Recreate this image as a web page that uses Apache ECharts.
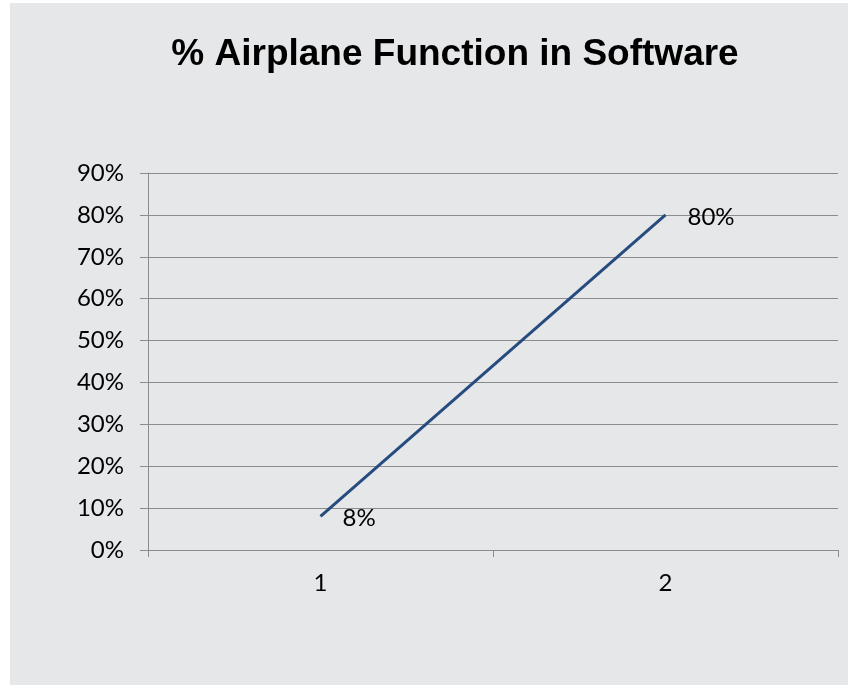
<!DOCTYPE html>
<html><head><meta charset="utf-8">
<script src="https://cdn.jsdelivr.net/npm/echarts@6/dist/echarts.min.js"></script>
<style>
html,body{margin:0;padding:0;background:#ffffff;}
#c{position:absolute;left:10px;top:3px;width:838px;height:682px;background:#e6e7e9;}
</style></head><body>
<div id="c"></div>
<script>
const categories = ['1', '2'];
const values = [0.08, 0.80];
const titleText = '% Airplane Function in Software';

const labelFont = 'Lato, Open Sans, sans-serif';
const chart = echarts.init(document.getElementById('c'), null, {renderer: 'canvas'});
chart.setOption({
  backgroundColor: '#e6e7e9',
  animation: false,
  graphic: [{
    type: 'text',
    x: 445, y: 52,
    style: {
      text: titleText,
      textAlign: 'center', textVerticalAlign: 'middle',
      font: 'bold 37px "Liberation Sans", Arial, sans-serif',
      fill: '#000'
    }
  }],
  grid: {left: 138, right: 10, top: 170, bottom: 135},
  xAxis: {
    type: 'category',
    data: categories,
    boundaryGap: true,
    axisLine: {lineStyle: {color: '#8c8c8c', width: 1}},
    axisTick: {show: true, length: 7, lineStyle: {color: '#8c8c8c'}},
    axisLabel: {margin: 21, fontSize: 24, color: '#000', fontFamily: labelFont},
    splitLine: {show: false}
  },
  yAxis: {
    type: 'value',
    min: 0, max: 0.9, interval: 0.1,
    axisLine: {show: true, lineStyle: {color: '#8c8c8c', width: 1}},
    axisTick: {show: true, length: 8, inside: false, lineStyle: {color: '#8c8c8c'}},
    axisLabel: {margin: 24, fontSize: 24, color: '#000', fontFamily: labelFont,
      formatter: v => Math.round(v * 100) + '%'},
    splitLine: {show: true, lineStyle: {color: '#8c8c8c', width: 1}}
  },
  series: [{
    type: 'line',
    data: values,
    symbol: 'circle',
    symbolSize: 2,
    showSymbol: true,
    itemStyle: {color: 'rgba(0,0,0,0)'},
    lineStyle: {color: '#264b7e', width: 3},
    label: {
      show: true,
      position: 'right',
      distance: 21,
      formatter: p => Math.round(p.value * 100) + '%',
      fontSize: 24, color: '#000', fontFamily: labelFont
    },
    labelLayout: {dy: 2}
  }]
});
</script>
</body></html>
